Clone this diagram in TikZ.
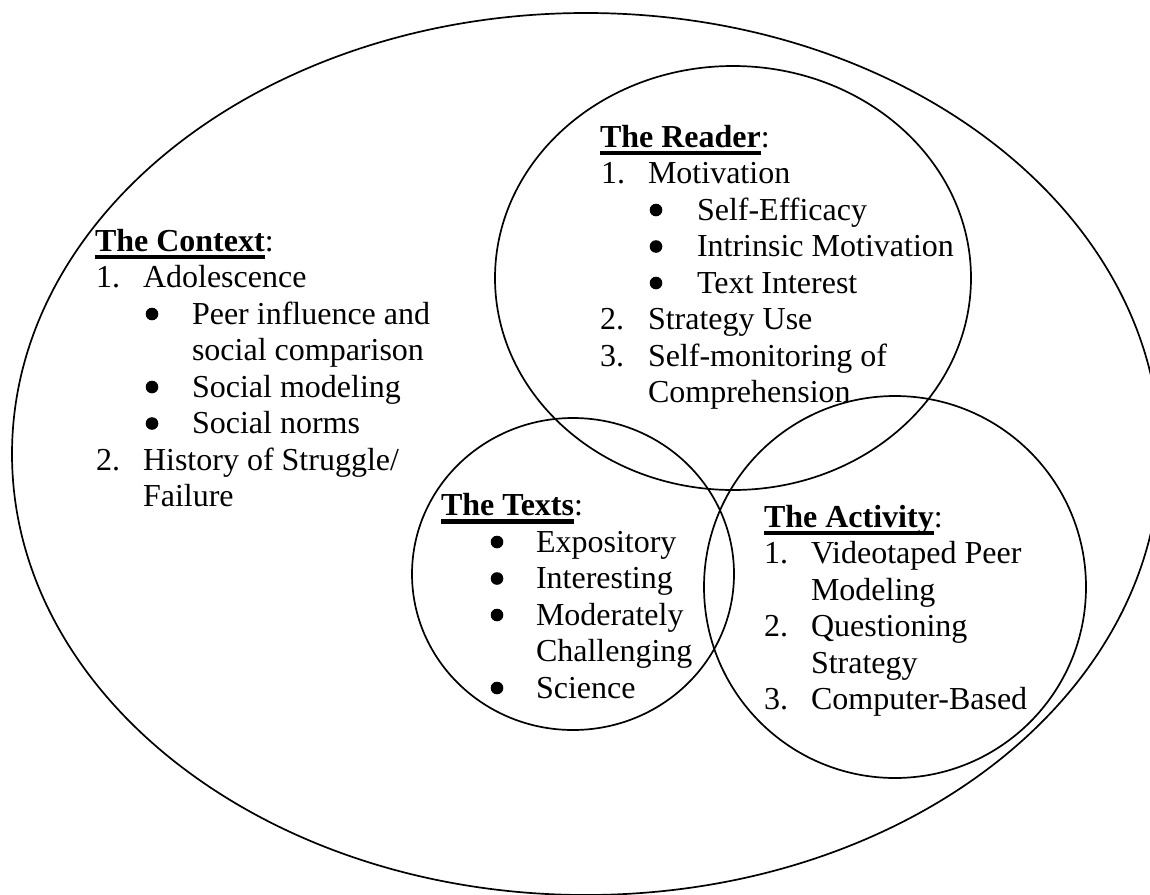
\documentclass[tikz,border=0pt]{standalone}
\usepackage{fontspec}
\setmainfont{Liberation Serif}
\usetikzlibrary{shapes.geometric}
\newcommand\ulb[1]{\setbox0\hbox{\bfseries #1}\rlap{\rule[-8pt]{\wd0}{4.2pt}}\box0}
\tikzset{
  txt/.style={anchor=base west, inner sep=0pt, outer sep=0pt, font=\fontsize{32}{36}\selectfont},
  ring/.style={draw, ellipse, line width=1.7pt, inner sep=0pt, outer sep=0pt},
  bul/.style={fill=black}
}
\begin{document}
\begin{tikzpicture}[x=1pt,y=-1pt]
\useasboundingbox (0,0) rectangle (1150,894);
% circles
\node[ring, minimum width=1148pt, minimum height=882pt] (context) at (586,454) {};
\node[ring, minimum width=476pt, minimum height=424pt] (reader) at (733,278) {};
\node[ring, minimum width=322pt, minimum height=312pt] (texts) at (573,574) {};
\node[ring, minimum width=382pt, minimum height=382pt] (activity) at (895,587) {};
% The Context
\node[txt] (ctxh) at (95,251) {\ulb{The Context}:};
\node[txt] (ctxn1) at (96,287.5) {1.};
\node[txt] (ctx1) at (143,287.5) {Adolescence};
\node[txt] (ctx1a) at (192,324) {Peer influence and};
\node[txt] (ctx1a2) at (192,360.5) {social comparison};
\node[txt] (ctx1b) at (192,397) {Social modeling};
\node[txt] (ctx1c) at (192,433.5) {Social norms};
\node[txt] (ctxn2) at (96,470) {2.};
\node[txt] (ctx2) at (143,470) {History of Struggle/};
\node[txt] (ctx2b) at (143,506.5) {Failure};
\fill[bul] (152,314) circle (6.3pt) (152,387) circle (6.3pt) (152,423.5) circle (6.3pt);
% The Reader
\node[txt] (rdh) at (600,147) {\ulb{The Reader}:};
\node[txt] (rdn1) at (601,183.5) {1.};
\node[txt] (rd1) at (648,183.5) {Motivation};
\node[txt] (rd1a) at (697,220) {Self-Efficacy};
\node[txt] (rd1b) at (697,256.5) {Intrinsic Motivation};
\node[txt] (rd1c) at (697,293) {Text Interest};
\node[txt] (rdn2) at (600,329.5) {2.};
\node[txt] (rd2) at (648,329.5) {Strategy Use};
\node[txt] (rdn3) at (600,366) {3.};
\node[txt] (rd3) at (648,366) {Self-monitoring of};
\node[txt] (rd3b) at (648,402.5) {Comprehension};
\fill[bul] (656,210) circle (6.3pt) (656,246.5) circle (6.3pt) (656,283) circle (6.3pt);
% The Texts
\node[txt] (txh) at (441,515.5) {\ulb{The Texts}:};
\node[txt] (tx1) at (536,552) {Expository};
\node[txt] (tx2) at (536,588.5) {Interesting};
\node[txt] (tx3) at (536,625) {Moderately};
\node[txt] (tx3b) at (536,661.5) {Challenging};
\node[txt] (tx4) at (536,698) {Science};
\fill[bul] (497,542) circle (6.3pt) (497,578.5) circle (6.3pt) (497,615) circle (6.3pt) (497,688) circle (6.3pt);
% The Activity
\node[txt] (ach) at (764,527) {\ulb{The Activity}:};
\node[txt] (acn1) at (764,563.5) {1.};
\node[txt] (ac1) at (811,563.5) {Videotaped Peer};
\node[txt] (ac1b) at (811,600) {Modeling};
\node[txt] (acn2) at (764,636.5) {2.};
\node[txt] (ac2) at (811,636.5) {Questioning};
\node[txt] (ac2b) at (811,673) {Strategy};
\node[txt] (acn3) at (764,709.5) {3.};
\node[txt] (ac3) at (811,709.5) {Computer-Based};
\end{tikzpicture}
\end{document}
